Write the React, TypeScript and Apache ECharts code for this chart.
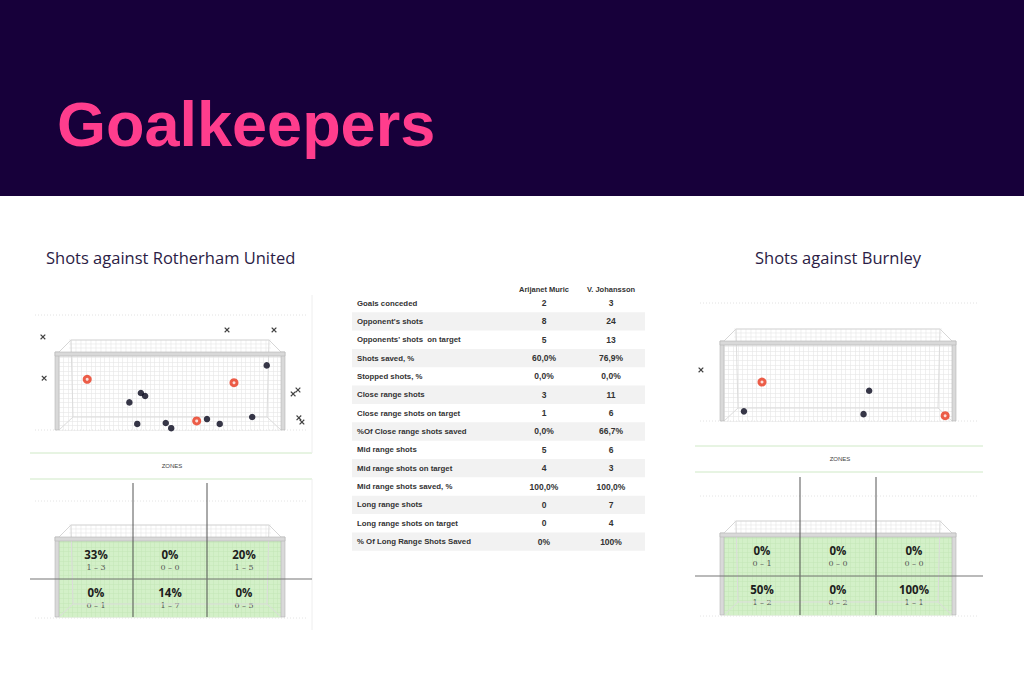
import React, { useEffect, useRef } from "react";
import * as echarts from "echarts";

// ---------- texts ----------
const pageTitle = "Goalkeepers";
const leftTitle = "Shots against Rotherham United";
const rightTitle = "Shots against Burnley";
const zonesTitle = "ZONES";

// ---------- table ----------
const tableHeaders = ["Arijanet Muric", "V. Johansson"];
const tableLabels = [
  "Goals conceded",
  "Opponent's shots",
  "Opponents' shots  on target",
  "Shots saved, %",
  "Stopped shots, %",
  "Close range shots",
  "Close range shots on target",
  "%Of Close range shots saved",
  "Mid range shots",
  "Mid range shots on target",
  "Mid range shots saved, %",
  "Long range shots",
  "Long range shots on target",
  "% Of Long Range Shots Saved",
];
const muricValues = ["2", "8", "5", "60,0%", "0,0%", "3", "1", "0,0%", "5", "4", "100,0%", "0", "0", "0%"];
const johanssonValues = ["3", "24", "13", "76,9%", "0,0%", "11", "6", "66,7%", "6", "3", "100,0%", "7", "4", "100%"];

// ---------- shots (metres: x from left post, y height) ----------
const leftGoals = [[0.93, 1.67], [5.77, 1.56], [4.54, 0.3]];
const leftSaved = [
  [6.85, 2.13], [2.7, 1.22], [2.84, 1.12], [2.32, 0.91], [2.58, 0.2],
  [3.52, 0.23], [3.7, 0.06], [4.88, 0.36], [5.3, 0.2], [6.37, 0.43],
];
const leftMissed = [
  [-0.53, 3.07], [-0.49, 1.71], [5.54, 3.3], [7.09, 3.3],
  [7.72, 1.19], [7.88, 1.32], [7.91, 0.4], [8.01, 0.26],
];
const rightGoals = [[1.22, 1.25], [7.1, 0.17]];
const rightSaved = [[4.66, 0.97], [0.64, 0.31], [4.48, 0.22]];
const rightMissed = [[-0.74, 1.64]];

// ---------- zones (row 0 = top, row 1 = bottom) ----------
const zoneCols = ["Left", "Centre", "Right"];
const zoneRows = ["Low", "High"];
const leftZonePct = [[33, 0, 20], [0, 14, 0]];
const leftZoneGoals = [[1, 0, 1], [0, 1, 0]];
const leftZoneShots = [[3, 0, 5], [1, 7, 5]];
const rightZonePct = [[0, 0, 0], [50, 0, 100]];
const rightZoneGoals = [[0, 0, 0], [1, 0, 1]];
const rightZoneShots = [[1, 0, 0], [2, 2, 1]];

const GOAL_W = 7.32;
const GOAL_H = 2.44;
const NET_STEP = 0.15;
const ZONE_GREEN = "rgba(175,228,155,0.55)";

const PANELS = [
  {
    title: leftTitle, titleX: 46,
    x0: 59, w: 222, shotTop: 356, shotH: 74, zoneTop: 541, zoneH: 76,
    pl: 30, pr: 312, dotTop: 315, greenA: 453, zonesY: 466, greenB: 479, divTop: 483, dotMid: 501,
    goals: leftGoals, saved: leftSaved, missed: leftMissed,
    pct: leftZonePct, zg: leftZoneGoals, zs: leftZoneShots, border: true,
  },
  {
    title: rightTitle, titleX: 755,
    x0: 724, w: 228, shotTop: 345, shotH: 76, zoneTop: 537, zoneH: 78,
    pl: 695, pr: 983, dotTop: 303, greenA: 446, zonesY: 459, greenB: 472, divTop: 477, dotMid: 496,
    goals: rightGoals, saved: rightSaved, missed: rightMissed,
    pct: rightZonePct, zg: rightZoneGoals, zs: rightZoneShots, border: false,
  },
];

const txt = (x: number, y: number, text: string, s: any, extra: any = {}) => ({
  type: "text",
  x,
  y,
  silent: true,
  ...extra,
  style: {
    text,
    fill: s.fill || "#333",
    fontSize: s.fontSize || 12,
    fontWeight: s.fontWeight || "normal",
    fontFamily: s.fontFamily || "Liberation Sans",
    align: s.align || "left",
    verticalAlign: "middle",
    textAlign: s.align || "left",
    textVerticalAlign: "middle",
  },
});

const line = (x1: number, y1: number, x2: number, y2: number, stroke: string, lw = 1, extra: any = {}) => ({
  type: "line",
  silent: true,
  shape: { x1, y1, x2, y2 },
  style: { stroke, lineWidth: lw, ...(extra.dash ? { lineDash: extra.dash } : {}) },
  z: extra.z || 1,
});

function goalFrame(x0: number, w: number, top: number, h: number, g: any[]) {
  const inset = 12;
  const roofY = top - 16;
  const backY = top + h - 13;
  for (let x = x0 + inset; x <= x0 + w - inset; x += 5) {
    g.push(line(x, roofY, x, top - 4, "#e6e6e6", 0.6));
  }
  for (let y = roofY; y < top - 4; y += 4) {
    g.push(line(x0 + inset - 2, y, x0 + w - inset + 2, y, "#e6e6e6", 0.6));
  }
  g.push({
    type: "polyline", silent: true, z: 6,
    shape: { points: [[x0, top - 4], [x0 + inset, roofY], [x0 + w - inset, roofY], [x0 + w, top - 4]] },
    style: { stroke: "#d6d6d6", lineWidth: 1, fill: "none" },
  });
  g.push({
    type: "polyline", silent: true, z: 6,
    shape: { points: [[x0 + inset, roofY], [x0 + inset + 2, backY], [x0 + w - inset - 2, backY], [x0 + w - inset, roofY]] },
    style: { stroke: "#dcdcdc", lineWidth: 1, fill: "none" },
  });
  g.push(line(x0 + inset + 2, backY, x0, top + h, "#dcdcdc", 1, { z: 6 }));
  g.push(line(x0 + w - inset - 2, backY, x0 + w, top + h, "#dcdcdc", 1, { z: 6 }));
  const post = { fill: "#d9d9d9", stroke: "#b5b5b5", lineWidth: 0.6 };
  g.push({ type: "rect", silent: true, z: 10, shape: { x: x0 - 4, y: top - 4, width: 4, height: h + 4 }, style: post });
  g.push({ type: "rect", silent: true, z: 10, shape: { x: x0 + w, y: top - 4, width: 4, height: h + 4 }, style: post });
  g.push({ type: "rect", silent: true, z: 10, shape: { x: x0 - 4, y: top - 4, width: w + 8, height: 4 }, style: post });
}

function buildOption() {
  const graphic: any[] = [];
  graphic.push({ type: "rect", silent: true, z: 0, shape: { x: 0, y: 0, width: 1024, height: 196 }, style: { fill: "#17003a" } });
  graphic.push(txt(57, 124, pageTitle, { fill: "#ff3d8d", fontSize: 63, fontWeight: "bold", fontFamily: "Liberation Sans" }));

  const tX = 352, tW = 293, rowH = 18.35, firstY = 303;
  graphic.push(txt(544, 289, tableHeaders[0], { fontSize: 7.5, fontWeight: "bold", align: "center", fill: "#333" }));
  graphic.push(txt(611, 289, tableHeaders[1], { fontSize: 7.5, fontWeight: "bold", align: "center", fill: "#333" }));
  tableLabels.forEach((lab, i) => {
    const cy = firstY + i * rowH;
    if (i % 2 === 1) {
      graphic.push({ type: "rect", silent: true, z: 0, shape: { x: tX, y: cy - rowH / 2, width: tW, height: rowH }, style: { fill: "#f2f2f2" } });
    }
    graphic.push(txt(357, cy, lab, { fontSize: 7.8, fontWeight: "bold", fill: "#333" }, { z: 2 }));
    graphic.push(txt(544, cy, muricValues[i], { fontSize: 8.5, fontWeight: "bold", align: "center", fill: "#333" }, { z: 2 }));
    graphic.push(txt(611, cy, johanssonValues[i], { fontSize: 8.5, fontWeight: "bold", align: "center", fill: "#333" }, { z: 2 }));
  });

  PANELS.forEach((p) => {
    graphic.push(txt(p.titleX, 257, p.title, { fontSize: 16.5, fontFamily: "Open Sans", fill: "#2b1c45" }));
    graphic.push(line(p.pl + 5, p.dotTop, p.pr - 5, p.dotTop, "#e2e2e2", 1, { dash: [1, 2] }));
    graphic.push(line(p.pl + 5, p.shotTop + p.shotH, p.pr - 5, p.shotTop + p.shotH, "#e2e2e2", 1, { dash: [1, 2] }));
    goalFrame(p.x0, p.w, p.shotTop, p.shotH, graphic);
    graphic.push(line(p.pl, p.greenA, p.pr, p.greenA, "#cfe9c6", 1));
    graphic.push(txt((p.x0 + p.x0 + p.w) / 2 + 2, p.zonesY, zonesTitle, { fontSize: 6, fill: "#444", align: "center" }));
    graphic.push(line(p.pl, p.greenB, p.pr, p.greenB, "#cfe9c6", 1));
    if (p.border) {
      graphic.push(line(p.pr, 295, p.pr, p.greenA, "#eeeeee", 1));
      graphic.push(line(p.pr, p.greenB, p.pr, 630, "#eeeeee", 1));
    }
    graphic.push(line(p.pl + 5, p.dotMid, p.pr - 5, p.dotMid, "#e4e4e4", 1, { dash: [1, 2] }));
    graphic.push(line(p.pl + 5, p.zoneTop + p.zoneH + 1, p.pr - 5, p.zoneTop + p.zoneH + 1, "#e4e4e4", 1, { dash: [1, 2] }));
    goalFrame(p.x0, p.w, p.zoneTop, p.zoneH, graphic);
    const c1 = p.x0 + p.w / 3, c2 = p.x0 + (2 * p.w) / 3;
    graphic.push(line(c1, p.divTop, c1, p.zoneTop + p.zoneH, "#555", 1, { z: 12 }));
    graphic.push(line(c2, p.divTop, c2, p.zoneTop + p.zoneH, "#555", 1, { z: 12 }));
    const midY = p.zoneTop + p.zoneH / 2;
    graphic.push(line(p.pl, midY, p.pr, midY, "#777", 1.2, { z: 12 }));
  });

  const netStyle = { show: true, lineStyle: { color: "#e6e6e6", width: 0.6 } };
  const zoneNetStyle = { show: true, lineStyle: { color: "#dde7d9", width: 0.5 } };
  const valAxis = (gridIndex: number, max: number, split: any) => ({
    type: "value", gridIndex, min: 0, max, interval: NET_STEP, show: true,
    axisLine: { show: false }, axisTick: { show: false }, axisLabel: { show: false }, splitLine: split,
  });
  const catAxis = (gridIndex: number, data: string[]) => ({
    type: "category", gridIndex, data, show: true,
    axisLine: { show: false }, axisTick: { show: false }, axisLabel: { show: false }, splitLine: { show: false },
  });

  const grid = [
    ...PANELS.map((p) => ({ left: p.x0, top: p.shotTop, width: p.w, height: p.shotH })),
    ...PANELS.map((p) => ({ left: p.x0, top: p.zoneTop, width: p.w, height: p.zoneH })),
  ];
  const xAxis = [
    valAxis(0, GOAL_W, netStyle), valAxis(1, GOAL_W, netStyle),
    catAxis(2, zoneCols), catAxis(3, zoneCols),
    valAxis(2, GOAL_W, zoneNetStyle), valAxis(3, GOAL_W, zoneNetStyle),
  ];
  const yAxis = [
    valAxis(0, GOAL_H, netStyle), valAxis(1, GOAL_H, netStyle),
    catAxis(2, zoneRows), catAxis(3, zoneRows),
    valAxis(2, GOAL_H, zoneNetStyle), valAxis(3, GOAL_H, zoneNetStyle),
  ];

  const series: any[] = [];
  const heatmapIdx: number[] = [];
  PANELS.forEach((p, i) => {
    series.push({
      type: "scatter", xAxisIndex: i, yAxisIndex: i, clip: false, z: 20, data: p.missed,
      symbol: "path://M0,1.5L1.5,0L5,3.5L8.5,0L10,1.5L6.5,5L10,8.5L8.5,10L5,6.5L1.5,10L0,8.5L3.5,5Z",
      symbolSize: 5.5, itemStyle: { color: "#111111" },
    });
    series.push({
      type: "scatter", xAxisIndex: i, yAxisIndex: i, clip: false, z: 20, data: p.saved,
      symbol: "circle", symbolSize: 6.5, itemStyle: { color: "#05051a" },
    });
    series.push({
      type: "scatter", xAxisIndex: i, yAxisIndex: i, clip: false, z: 20, data: p.goals,
      symbol: "circle", symbolSize: 9, itemStyle: { color: "#e8361c" },
    });
    series.push({
      type: "scatter", xAxisIndex: i, yAxisIndex: i, clip: false, z: 21, data: p.goals,
      symbol: "circle", symbolSize: 3, itemStyle: { color: "#ffffff" },
    });
    const hm: any[] = [];
    const labels: string[] = [];
    for (let r = 0; r < 2; r++) {
      for (let c = 0; c < 3; c++) {
        hm.push([c, 1 - r, p.pct[r][c]]);
        labels.push(`{p|${p.pct[r][c]}%}\n{s|${p.zg[r][c]} – ${p.zs[r][c]}}`);
      }
    }
    heatmapIdx.push(series.length);
    series.push({
      type: "heatmap", xAxisIndex: 2 + i, yAxisIndex: 2 + i, z: 5, data: hm,
      label: {
        show: true,
        formatter: (params: any) => labels[params.dataIndex],
        rich: {
          p: { fontSize: 11.5, fontWeight: "bold", fontFamily: "Open Sans", color: "#1d1d1d", lineHeight: 14 },
          s: { fontSize: 8, fontFamily: "DejaVu Serif", color: "#555", lineHeight: 12 },
        },
      },
    });
  });

  const visualMap = {
    type: "continuous", show: false, min: 0, max: 100, dimension: 2, seriesIndex: heatmapIdx,
    inRange: { color: [ZONE_GREEN, ZONE_GREEN] },
  };

  return { animation: false, grid, xAxis, yAxis, series, graphic, visualMap };
}

export default function App() {
  const ref = useRef<HTMLDivElement>(null);
  useEffect(() => {
    document.body.style.margin = "0";
    const chart = echarts.init(ref.current!, null, { renderer: "svg", width: 1024, height: 683 });
    chart.setOption(buildOption() as any);
    return () => chart.dispose();
  }, []);
  return <div ref={ref} style={{ width: 1024, height: 683, background: "#ffffff" }} />;
}
